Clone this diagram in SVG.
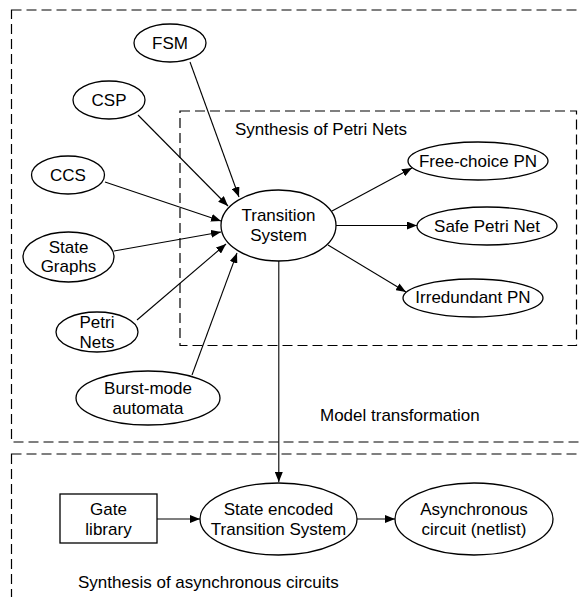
<svg xmlns="http://www.w3.org/2000/svg" width="580" height="597" viewBox="0 0 580 597">
<defs>
<style>
text{font-family:"Liberation Sans",Arial,sans-serif;font-size:17px;fill:#000}
.c{text-anchor:middle}
.n{fill:#fff;stroke:#000;stroke-width:1.3}
.box{fill:none;stroke:#000;stroke-width:1.2;stroke-dasharray:10 5}
.e{fill:none;stroke:#000;stroke-width:1.1;marker-end:url(#ah)}
</style>
<marker id="ah" viewBox="0 0 10 8" refX="10" refY="4" markerWidth="10" markerHeight="8" markerUnits="userSpaceOnUse" orient="auto">
<path d="M0,0 L10,4 L0,8 Z" fill="#000"/>
</marker>
</defs>
<rect width="580" height="597" fill="#fff"/>
<g id="regions">
<rect class="box" x="11.5" y="10" width="600" height="432"/>
<rect class="box" x="11.5" y="454" width="600" height="200"/>
<rect class="box" x="180" y="111" width="396.5" height="234.5"/>
<text x="235" y="135">Synthesis of Petri Nets</text>
<text x="320" y="421">Model transformation</text>
<text x="78" y="587.5">Synthesis of asynchronous circuits</text>
</g>
<g id="connectors">
<line class="e" x1="190" y1="62" x2="239" y2="197"/>
<line class="e" x1="138" y1="115" x2="228" y2="206"/>
<line class="e" x1="105" y1="182" x2="221" y2="221"/>
<line class="e" x1="114" y1="251" x2="221" y2="232"/>
<line class="e" x1="137" y1="320" x2="226" y2="244"/>
<line class="e" x1="192" y1="375" x2="237" y2="253"/>
<line class="e" x1="332" y1="211" x2="412" y2="168"/>
<line class="e" x1="336" y1="225.5" x2="417" y2="225.5"/>
<line class="e" x1="328" y1="245" x2="406" y2="292"/>
<line class="e" x1="278.8" y1="261" x2="278.8" y2="482"/>
<line class="e" x1="157" y1="519" x2="200" y2="519"/>
<line class="e" x1="357" y1="519" x2="395" y2="519"/>
</g>
<g id="fsm"><ellipse class="n" cx="170" cy="43" rx="36" ry="19"/><text class="c" x="170" y="49">FSM</text></g>
<g id="csp"><ellipse class="n" cx="109" cy="100" rx="36" ry="19"/><text class="c" x="109" y="106">CSP</text></g>
<g id="ccs"><ellipse class="n" cx="68" cy="175" rx="36.5" ry="19"/><text class="c" x="68" y="181">CCS</text></g>
<g id="state-graphs"><ellipse class="n" cx="68.5" cy="257" rx="45.5" ry="25"/><text class="c" x="68.5" y="252.5">State</text><text class="c" x="68.5" y="272">Graphs</text></g>
<g id="petri-nets"><ellipse class="n" cx="97" cy="332" rx="41" ry="20"/><text class="c" x="97" y="327.5">Petri</text><text class="c" x="97" y="347.5">Nets</text></g>
<g id="burst-mode"><ellipse class="n" cx="148" cy="398" rx="72" ry="27"/><text class="c" x="148" y="394">Burst-mode</text><text class="c" x="148" y="414">automata</text></g>
<g id="transition-system"><ellipse class="n" cx="278.5" cy="225.5" rx="57.5" ry="35.5"/><text class="c" x="278.5" y="221">Transition</text><text class="c" x="278.5" y="241">System</text></g>
<g id="free-choice"><ellipse class="n" cx="478" cy="161" rx="70" ry="19"/><text class="c" x="478" y="167">Free-choice PN</text></g>
<g id="safe-pn"><ellipse class="n" cx="487" cy="226" rx="70" ry="19"/><text class="c" x="487" y="231.5">Safe Petri Net</text></g>
<g id="irredundant"><ellipse class="n" cx="473" cy="298" rx="70" ry="19"/><text class="c" x="473" y="303">Irredundant PN</text></g>
<g id="gate-library"><rect class="n" x="60" y="494" width="97" height="49"/><text class="c" x="108.5" y="515">Gate</text><text class="c" x="108.5" y="535">library</text></g>
<g id="state-encoded"><ellipse class="n" cx="278.5" cy="519" rx="78.5" ry="36"/><text class="c" x="278.5" y="515">State encoded</text><text class="c" x="278.5" y="535">Transition System</text></g>
<g id="async-circuit"><ellipse class="n" cx="474" cy="519" rx="79" ry="36"/><text class="c" x="474" y="515">Asynchronous</text><text class="c" x="474" y="535">circuit (netlist)</text></g>
</svg>
